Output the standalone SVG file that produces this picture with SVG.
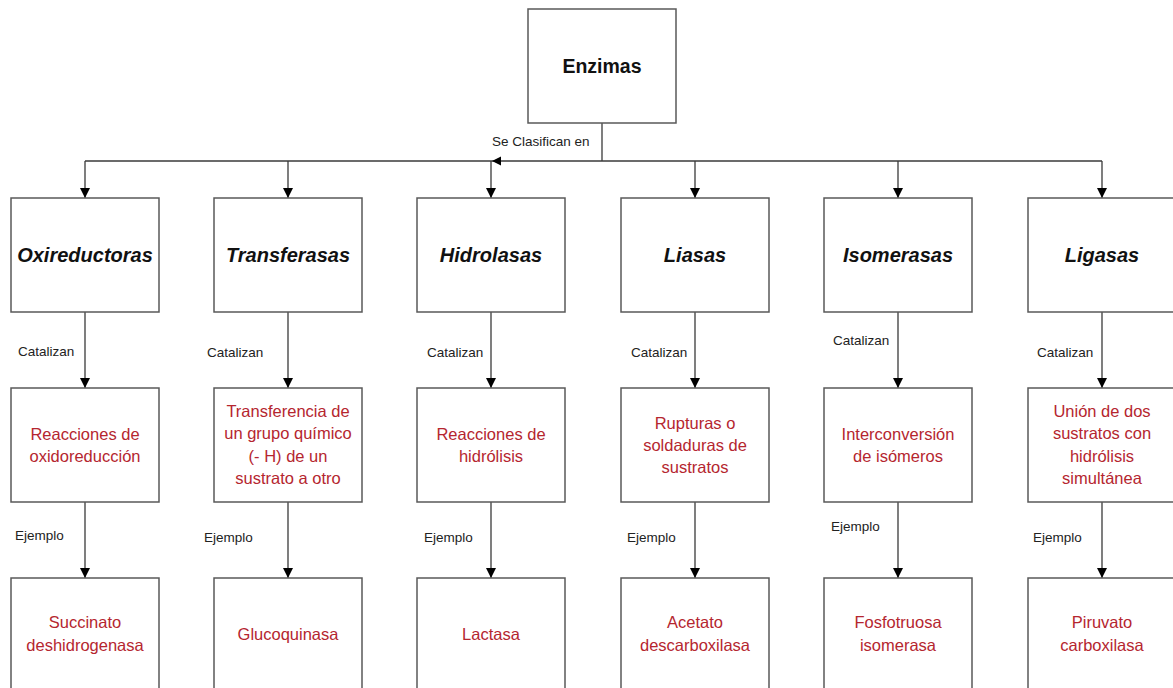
<svg xmlns="http://www.w3.org/2000/svg" width="1173" height="688" viewBox="0 0 1173 688">
<style>
.box{fill:#fff;stroke:#595959;stroke-width:1.5}
.ln{fill:none;stroke:#3a3a3a;stroke-width:1.3}
.ttl{font-family:"Liberation Sans",Arial,sans-serif;font-weight:bold;font-style:italic;font-size:20px;fill:#111;text-anchor:middle}
.top{font-family:"Liberation Sans",Arial,sans-serif;font-weight:bold;font-size:19.5px;fill:#111;text-anchor:middle}
.red{font-family:"Liberation Sans",Arial,sans-serif;font-size:16.5px;fill:#b5262f;text-anchor:middle}
.lbl{font-family:"Liberation Sans",Arial,sans-serif;font-size:13.5px;fill:#222}
</style>
<defs>
<marker id="ah" viewBox="0 0 10 10" refX="10" refY="5" markerWidth="10" markerHeight="10" markerUnits="userSpaceOnUse" orient="auto">
<path d="M0,0 L10,5 L0,10 Z" fill="#000"/>
</marker>
</defs>
<rect width="1173" height="688" fill="#fff"/>
<g id="connectors">
<line class="ln" x1="602" y1="123" x2="602" y2="161"/>
<line class="ln" x1="85" y1="161" x2="1102" y2="161"/>
<path d="M492,161 L501,156.5 L501,165.5 Z" fill="#000"/>
<line class="ln" x1="85" y1="161" x2="85" y2="198" marker-end="url(#ah)"/>
<line class="ln" x1="288" y1="161" x2="288" y2="198" marker-end="url(#ah)"/>
<line class="ln" x1="491" y1="161" x2="491" y2="198" marker-end="url(#ah)"/>
<line class="ln" x1="695" y1="161" x2="695" y2="198" marker-end="url(#ah)"/>
<line class="ln" x1="898" y1="161" x2="898" y2="198" marker-end="url(#ah)"/>
<line class="ln" x1="1102" y1="161" x2="1102" y2="198" marker-end="url(#ah)"/>
<line class="ln" x1="85" y1="312" x2="85" y2="388" marker-end="url(#ah)"/>
<line class="ln" x1="288" y1="312" x2="288" y2="388" marker-end="url(#ah)"/>
<line class="ln" x1="491" y1="312" x2="491" y2="388" marker-end="url(#ah)"/>
<line class="ln" x1="695" y1="312" x2="695" y2="388" marker-end="url(#ah)"/>
<line class="ln" x1="898" y1="312" x2="898" y2="388" marker-end="url(#ah)"/>
<line class="ln" x1="1102" y1="312" x2="1102" y2="388" marker-end="url(#ah)"/>
<line class="ln" x1="85" y1="502" x2="85" y2="578" marker-end="url(#ah)"/>
<line class="ln" x1="288" y1="502" x2="288" y2="578" marker-end="url(#ah)"/>
<line class="ln" x1="491" y1="502" x2="491" y2="578" marker-end="url(#ah)"/>
<line class="ln" x1="695" y1="502" x2="695" y2="578" marker-end="url(#ah)"/>
<line class="ln" x1="898" y1="502" x2="898" y2="578" marker-end="url(#ah)"/>
<line class="ln" x1="1102" y1="502" x2="1102" y2="578" marker-end="url(#ah)"/>
<text class="lbl" x="492" y="146">Se Clasifican en</text>
<text class="lbl" x="18" y="356">Catalizan</text>
<text class="lbl" x="207" y="357">Catalizan</text>
<text class="lbl" x="427" y="357">Catalizan</text>
<text class="lbl" x="631" y="357">Catalizan</text>
<text class="lbl" x="833" y="345">Catalizan</text>
<text class="lbl" x="1037" y="357">Catalizan</text>
<text class="lbl" x="15" y="540">Ejemplo</text>
<text class="lbl" x="204" y="542">Ejemplo</text>
<text class="lbl" x="424" y="542">Ejemplo</text>
<text class="lbl" x="627" y="542">Ejemplo</text>
<text class="lbl" x="831" y="531">Ejemplo</text>
<text class="lbl" x="1033" y="542">Ejemplo</text>
</g>
<g id="enzimas"><rect class="box" x="528" y="9" width="148" height="114"/><text class="top" x="602" y="73">Enzimas</text></g>
<g id="oxireductoras"><rect class="box" x="11" y="198" width="148" height="114"/><text class="ttl" x="85" y="262">Oxireductoras</text></g>
<g id="transferasas"><rect class="box" x="214" y="198" width="148" height="114"/><text class="ttl" x="288" y="262">Transferasas</text></g>
<g id="hidrolasas"><rect class="box" x="417" y="198" width="148" height="114"/><text class="ttl" x="491" y="262">Hidrolasas</text></g>
<g id="liasas"><rect class="box" x="621" y="198" width="148" height="114"/><text class="ttl" x="695" y="262">Liasas</text></g>
<g id="isomerasas"><rect class="box" x="824" y="198" width="148" height="114"/><text class="ttl" x="898" y="262">Isomerasas</text></g>
<g id="ligasas"><rect class="box" x="1028" y="198" width="148" height="114"/><text class="ttl" x="1102" y="262">Ligasas</text></g>
<g id="r-oxido"><rect class="box" x="11" y="388" width="148" height="114"/><text class="red" x="85" y="440">Reacciones de</text><text class="red" x="85" y="462">oxidoreducción</text></g>
<g id="r-transf"><rect class="box" x="214" y="388" width="148" height="114"/><text class="red" x="288" y="417">Transferencia de</text><text class="red" x="288" y="439">un grupo químico</text><text class="red" x="288" y="462">(- H) de un</text><text class="red" x="288" y="484">sustrato a otro</text></g>
<g id="r-hidro"><rect class="box" x="417" y="388" width="148" height="114"/><text class="red" x="491" y="440">Reacciones de</text><text class="red" x="491" y="462">hidrólisis</text></g>
<g id="r-liasas"><rect class="box" x="621" y="388" width="148" height="114"/><text class="red" x="695" y="429">Rupturas o</text><text class="red" x="695" y="451">soldaduras de</text><text class="red" x="695" y="473">sustratos</text></g>
<g id="r-isom"><rect class="box" x="824" y="388" width="148" height="114"/><text class="red" x="898" y="440">Interconversión</text><text class="red" x="898" y="462">de isómeros</text></g>
<g id="r-ligasas"><rect class="box" x="1028" y="388" width="148" height="114"/><text class="red" x="1102" y="417">Unión de dos</text><text class="red" x="1102" y="439">sustratos con</text><text class="red" x="1102" y="462">hidrólisis</text><text class="red" x="1102" y="484">simultánea</text></g>
<g id="e-succ"><rect class="box" x="11" y="578" width="148" height="114"/><text class="red" x="85" y="628">Succinato</text><text class="red" x="85" y="651">deshidrogenasa</text></g>
<g id="e-gluco"><rect class="box" x="214" y="578" width="148" height="114"/><text class="red" x="288" y="640">Glucoquinasa</text></g>
<g id="e-lact"><rect class="box" x="417" y="578" width="148" height="114"/><text class="red" x="491" y="640">Lactasa</text></g>
<g id="e-acet"><rect class="box" x="621" y="578" width="148" height="114"/><text class="red" x="695" y="628">Acetato</text><text class="red" x="695" y="651">descarboxilasa</text></g>
<g id="e-fosfo"><rect class="box" x="824" y="578" width="148" height="114"/><text class="red" x="898" y="628">Fosfotruosa</text><text class="red" x="898" y="651">isomerasa</text></g>
<g id="e-piru"><rect class="box" x="1028" y="578" width="148" height="114"/><text class="red" x="1102" y="628">Piruvato</text><text class="red" x="1102" y="651">carboxilasa</text></g>
</svg>
